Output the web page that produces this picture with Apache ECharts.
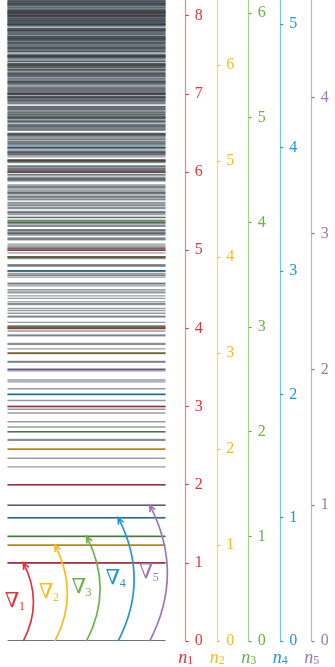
<!DOCTYPE html>
<html><head><meta charset="utf-8">
<script src="https://cdn.jsdelivr.net/npm/echarts@6/dist/echarts.min.js"></script>
<style>html,body{margin:0;padding:0;background:#fff}#c{width:335px;height:667px}</style>
</head><body><div id="c"></div>
<script>
// Fundamental quanta ∇1..∇5 (in units of ∇1)
const modeIndex = ['1', '2', '3', '4', '5'];
const fundamentals = [1.000, 1.228, 1.339, 1.578, 1.738];
// highest energy shown on the n1 axis
const energyMax = 8.2;
// horizontal position of each ∇ arrow (fraction of plot width)
const arrowX = [0.1, 0.3, 0.5, 0.7, 0.9];
// tick labels for each n axis
const ticksN1 = [0, 1, 2, 3, 4, 5, 6, 7, 8];
const ticksN2 = [0, 1, 2, 3, 4, 5, 6];
const ticksN3 = [0, 1, 2, 3, 4, 5, 6];
const ticksN4 = [0, 1, 2, 3, 4, 5];
const ticksN5 = [0, 1, 2, 3, 4];
const tickValues = [ticksN1, ticksN2, ticksN3, ticksN4, ticksN5];
const modeColors = ['#e8333c', '#fbbb1c', '#6bb244', '#1f97d6', '#9b79b4'];

// Levels: every combination n1∇1 + ... + n5∇5 up to energyMax
const combLevels = [];   // all excited levels (gray)
const pureLevels = [];   // pure multiples n_k∇_k (coloured)
(function enumerate(k, e, nonzero, which) {
  if (k === fundamentals.length) {
    if (nonzero === 0) return;
    combLevels.push([0.5, e]);
    if (nonzero === 1) pureLevels.push([0.5, e, which]);
    return;
  }
  for (let n = 0; e + n * fundamentals[k] <= energyMax + 1e-9; n++) {
    enumerate(k + 1, e + n * fundamentals[k], nonzero + (n > 0 ? 1 : 0), n > 0 ? k : which);
  }
})(0, 0, 0, -1);

const serif = '"Liberation Serif", "DejaVu Serif", serif';
const chart = echarts.init(document.getElementById('c'), null, {renderer: 'canvas'});

function hLine(api, y, stroke, w) {
  const p0 = api.coord([0, y]), p1 = api.coord([1, y]);
  return {type: 'line', shape: {x1: p0[0], y1: p0[1], x2: p1[0], y2: p1[1]}, style: {stroke: stroke, lineWidth: w}};
}

chart.setOption({
  animation: false,
  grid: {left: 7.5, right: 169.5, top: 0, bottom: 21.5, containLabel: false},
  xAxis: {type: 'value', min: 0, max: 1, show: false},
  yAxis: fundamentals.map((f, k) => ({
    type: 'value', position: 'right', offset: 20.2 + 31.5 * k,
    min: 0, max: energyMax / f, interval: 1,
    name: '{n|n}{s|' + modeIndex[k] + '}', nameLocation: 'start', nameGap: 2,
    nameTextStyle: {
      rich: {
        n: {fontFamily: serif, fontStyle: 'italic', fontSize: 18, color: modeColors[k], verticalAlign: 'bottom', lineHeight: 18},
        s: {fontFamily: serif, fontSize: 12, color: modeColors[k], verticalAlign: 'bottom', lineHeight: 7}
      }
    },
    axisLine: {show: true, onZero: false, lineStyle: {color: modeColors[k], opacity: 0.6, width: 1.2}},
    axisTick: {show: true, inside: false, length: 3, customValues: tickValues[k], lineStyle: {color: modeColors[k], width: 1.2}},
    axisLabel: {show: true, customValues: tickValues[k], color: modeColors[k], margin: 9, fontFamily: serif, fontSize: 16},
    splitLine: {show: false}
  })),
  series: [
    { // ground level
      type: 'custom', yAxisIndex: 0, silent: true, clip: true, z: 3,
      data: [[0.5, 0]],
      renderItem: (p, api) => hLine(api, api.value(1), 'rgba(95,100,108,0.9)', 2.4)
    },
    { // pure multiples, coloured (under the gray veil)
      type: 'custom', yAxisIndex: 0, silent: true, clip: true, z: 1,
      data: pureLevels,
      renderItem: (p, api) => hLine(api, api.value(1), modeColors[api.value(2)], 1.6)
    },
    { // all excited levels, gray
      type: 'custom', yAxisIndex: 0, silent: true, clip: true, z: 2,
      data: combLevels,
      renderItem: (p, api) => hLine(api, api.value(1), 'rgba(45,55,66,0.5)', 1.4)
    },
    { // ∇ arrows
      type: 'custom', yAxisIndex: 0, silent: true, clip: false, z: 5,
      data: fundamentals.map((f, k) => [arrowX[k], f, k]),
      renderItem: (p, api) => {
        const k = api.value(2);
        const col = modeColors[k];
        const p0 = api.coord([api.value(0), 0]);
        const p2 = api.coord([api.value(0), api.value(1)]);
        const d = p0[1] - p2[1];
        const cp = [p0[0] + 0.26 * d, (p0[1] + p2[1]) / 2];
        let dx = p2[0] - cp[0], dy = p2[1] - cp[1];
        const len = Math.hypot(dx, dy); dx /= len; dy /= len;
        const hl = 7, a = 0.42;
        const bx = -dx, by = -dy;
        const r1 = [p2[0] + hl * (bx * Math.cos(a) - by * Math.sin(a)), p2[1] + hl * (bx * Math.sin(a) + by * Math.cos(a))];
        const r2 = [p2[0] + hl * (bx * Math.cos(-a) - by * Math.sin(-a)), p2[1] + hl * (bx * Math.sin(-a) + by * Math.cos(-a))];
        const midY = (p0[1] + p2[1]) / 2;
        const labelRight = p0[0] + 0.13 * d - 8.5;
        return {
          type: 'group',
          children: [
            {type: 'bezierCurve', shape: {x1: p0[0], y1: p0[1], x2: p2[0], y2: p2[1], cpx1: cp[0], cpy1: cp[1]},
             style: {stroke: col, lineWidth: 1.7, fill: null}},
            {type: 'polyline', shape: {points: [r1, p2, r2]}, style: {stroke: col, lineWidth: 1.7, fill: null}},
            {type: 'text', style: {text: '∇', x: labelRight - 5.5, y: midY - 1, align: 'right', verticalAlign: 'middle',
              fontFamily: serif, fontSize: 21, fill: col}},
            {type: 'text', style: {text: modeIndex[k], x: labelRight - 6, y: midY + 4.5, align: 'left', verticalAlign: 'middle',
              fontFamily: serif, fontSize: 12, fill: col}}
          ]
        };
      }
    }
  ]
});
</script>
</body></html>
